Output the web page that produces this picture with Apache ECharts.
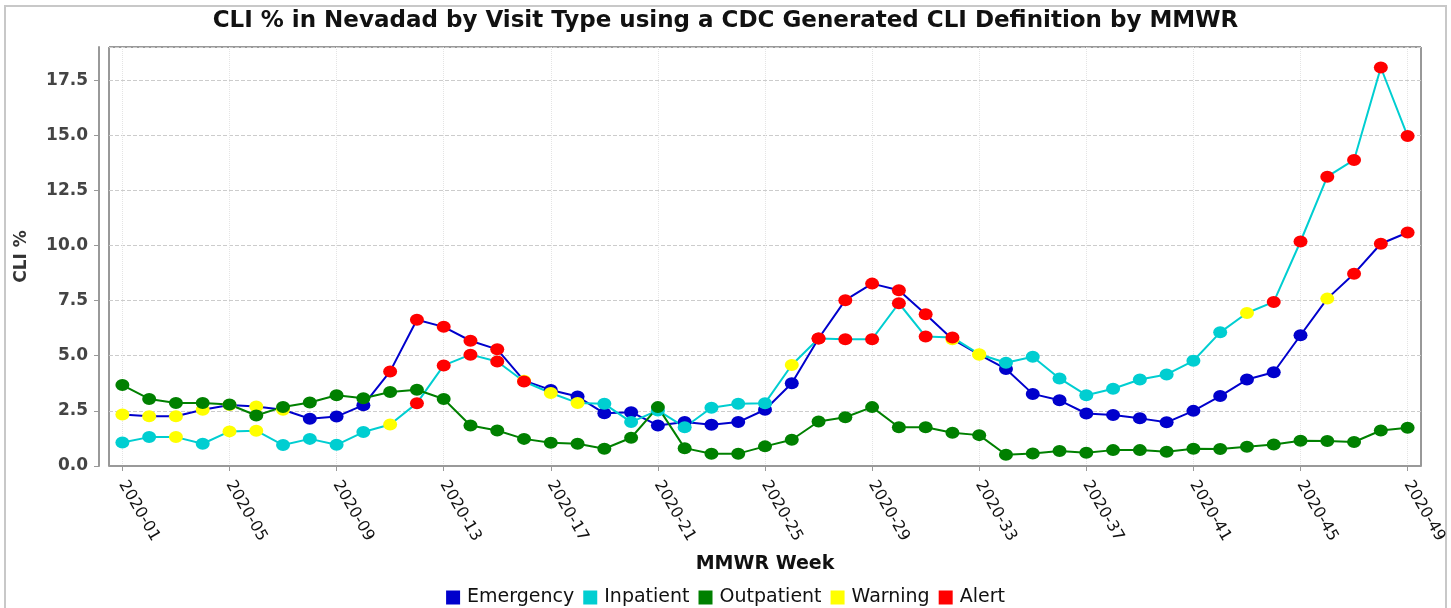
<!doctype html>
<html lang="en">
<head>
    <meta charset="utf-8">
    <title>CLI % in Nevadad by Visit Type</title>
    <script src="https://cdn.jsdelivr.net/npm/echarts@6/dist/echarts.min.js"></script>
    <style>
        html, body {margin: 0; padding: 0; background: #fff;}
        #chart {width: 1451px; height: 608px;}
    </style>
</head>
<body>
<div id="chart"></div>
<script>
    // MMWR weeks
    const weeks = ['2020-01', '2020-02', '2020-03', '2020-04', '2020-05', '2020-06', '2020-07', '2020-08', '2020-09', '2020-10',
        '2020-11', '2020-12', '2020-13', '2020-14', '2020-15', '2020-16', '2020-17', '2020-18', '2020-19', '2020-20',
        '2020-21', '2020-22', '2020-23', '2020-24', '2020-25', '2020-26', '2020-27', '2020-28', '2020-29', '2020-30',
        '2020-31', '2020-32', '2020-33', '2020-34', '2020-35', '2020-36', '2020-37', '2020-38', '2020-39', '2020-40',
        '2020-41', '2020-42', '2020-43', '2020-44', '2020-45', '2020-46', '2020-47', '2020-48', '2020-49'];

    const emergency = [2.33, 2.26, 2.26, 2.55, 2.77, 2.70, 2.55, 2.14, 2.24, 2.76,
        4.29, 6.63, 6.31, 5.68, 5.29, 3.87, 3.45, 3.15, 2.39, 2.44,
        1.84, 1.99, 1.87, 1.99, 2.55, 3.75, 5.78, 7.52, 8.27, 7.97,
        6.88, 5.75, 5.05, 4.40, 3.27, 2.98, 2.38, 2.31, 2.16, 1.98,
        2.50, 3.17, 3.92, 4.25, 5.93, 7.59, 8.72, 10.08, 10.59];
    const inpatient = [1.07, 1.31, 1.31, 1.01, 1.57, 1.60, 0.95, 1.23, 0.96, 1.54,
        1.88, 2.85, 4.56, 5.05, 4.74, 3.83, 3.31, 2.86, 2.82, 1.99,
        2.52, 1.76, 2.64, 2.82, 2.85, 4.58, 5.78, 5.75, 5.75, 7.38,
        5.87, 5.83, 5.07, 4.68, 4.95, 3.97, 3.21, 3.50, 3.92, 4.15,
        4.77, 6.06, 6.94, 7.44, 10.18, 13.12, 13.88, 18.07, 14.96];
    const outpatient = [3.67, 3.04, 2.86, 2.86, 2.79, 2.29, 2.68, 2.88, 3.21, 3.07,
        3.36, 3.46, 3.04, 1.84, 1.61, 1.23, 1.05, 1.01, 0.78, 1.28,
        2.67, 0.81, 0.56, 0.56, 0.89, 1.19, 2.02, 2.21, 2.67, 1.76,
        1.76, 1.51, 1.40, 0.51, 0.57, 0.68, 0.60, 0.72, 0.72, 0.65,
        0.78, 0.77, 0.87, 0.97, 1.15, 1.13, 1.09, 1.61, 1.73];

    // N = normal, W = warning, A = alert
    const emergencyFlag = ['W', 'W', 'W', 'W', 'W', 'W', 'W', 'N', 'N', 'N',
        'A', 'A', 'A', 'A', 'A', 'W', 'N', 'N', 'N', 'N',
        'N', 'N', 'N', 'N', 'N', 'N', 'A', 'A', 'A', 'A',
        'A', 'W', 'W', 'N', 'N', 'N', 'N', 'N', 'N', 'N',
        'N', 'N', 'N', 'N', 'N', 'W', 'A', 'A', 'A'];
    const inpatientFlag = ['N', 'N', 'W', 'N', 'W', 'W', 'N', 'N', 'N', 'N',
        'W', 'A', 'A', 'A', 'A', 'A', 'W', 'W', 'N', 'N',
        'N', 'N', 'N', 'N', 'N', 'W', 'A', 'A', 'A', 'A',
        'A', 'A', 'W', 'N', 'N', 'N', 'N', 'N', 'N', 'N',
        'N', 'N', 'W', 'A', 'A', 'A', 'A', 'A', 'A'];

    const colors = {emergency: '#0000CC', inpatient: '#00CED1', outpatient: '#008000', warning: '#FFFF00', alert: '#FF0000'};
    const font = 'DejaVu Sans';

    function points(values, flags, base) {
        return values.map(function (v, i) {
            let f = flags ? flags[i] : 'N';
            let c = f === 'A' ? colors.alert : (f === 'W' ? colors.warning : base);
            return {value: v, itemStyle: {color: c}};
        });
    }

    function lineSeries(name, data, color) {
        return {
            name: name,
            type: 'line',
            data: data,
            symbol: 'circle',
            symbolSize: [14, 12],
            color: color,
            lineStyle: {color: color, width: 2},
            itemStyle: {color: color},
        };
    }

    let chart = echarts.init(document.getElementById('chart'));
    chart.setOption({
        animation: false,
        title: {
            text: 'CLI % in Nevadad by Visit Type using a CDC Generated CLI Definition by MMWR',
            left: 'center',
            top: 5,
            textStyle: {fontFamily: font, fontSize: 23, fontWeight: 'bold', color: '#111'}
        },
        graphic: [{
            type: 'rect',
            shape: {x: 5, y: 6, width: 1441, height: 700},
            style: {fill: 'none', stroke: '#c8c8c8', lineWidth: 2},
            silent: true
        }],
        legend: {
            top: 588,
            left: 'center',
            padding: 0,
            icon: 'rect',
            itemWidth: 14,
            itemHeight: 14,
            itemGap: 9,
            textStyle: {fontFamily: font, fontSize: 19, color: '#111', padding: [0, 0, 0, 2]},
            data: ['Emergency', 'Inpatient', 'Outpatient', 'Warning', 'Alert']
        },
        grid: {left: 109, right: 30, top: 47, bottom: 142, show: true, borderColor: '#333', borderWidth: 1},
        xAxis: {
            type: 'category',
            data: weeks,
            boundaryGap: true,
            offset: 8,
            name: 'MMWR Week',
            nameLocation: 'middle',
            nameGap: 81,
            nameTextStyle: {fontFamily: font, fontSize: 19, fontWeight: 'bold', color: '#111'},
            axisLine: {show: true, lineStyle: {color: '#999', width: 2}},
            axisTick: {show: true, interval: 3, alignWithLabel: true, length: 5, lineStyle: {color: '#999'}},
            axisLabel: {interval: 3, rotate: -60, margin: 8, fontFamily: font, fontSize: 16, color: '#111'},
            splitLine: {show: true, interval: 3, alignWithLabel: true, lineStyle: {type: 'dotted', color: '#e4e4e4'}}
        },
        yAxis: {
            type: 'value',
            min: 0,
            max: 19,
            interval: 2.5,
            offset: 10,
            name: 'CLI %',
            nameLocation: 'middle',
            nameGap: 69,
            nameTextStyle: {fontFamily: font, fontSize: 17, fontWeight: 'bold', color: '#333'},
            axisLine: {show: true, lineStyle: {color: '#999', width: 2}},
            axisTick: {show: true, length: 5, lineStyle: {color: '#999'}},
            axisLabel: {
                showMaxLabel: false,
                margin: 11,
                fontFamily: font, fontSize: 17, fontWeight: 'bold', color: '#444',
                formatter: function (v) { return v.toFixed(1); }
            },
            splitLine: {show: true, lineStyle: {type: 'dashed', color: '#cccccc'}}
        },
        series: [
            lineSeries('Emergency', points(emergency, emergencyFlag, colors.emergency), colors.emergency),
            lineSeries('Inpatient', points(inpatient, inpatientFlag, colors.inpatient), colors.inpatient),
            lineSeries('Outpatient', points(outpatient, null, colors.outpatient), colors.outpatient),
            lineSeries('Warning', [], colors.warning),
            lineSeries('Alert', [], colors.alert)
        ]
    });

    window.onresize = function () {
        chart.resize();
    };
</script>
</body>
</html>
